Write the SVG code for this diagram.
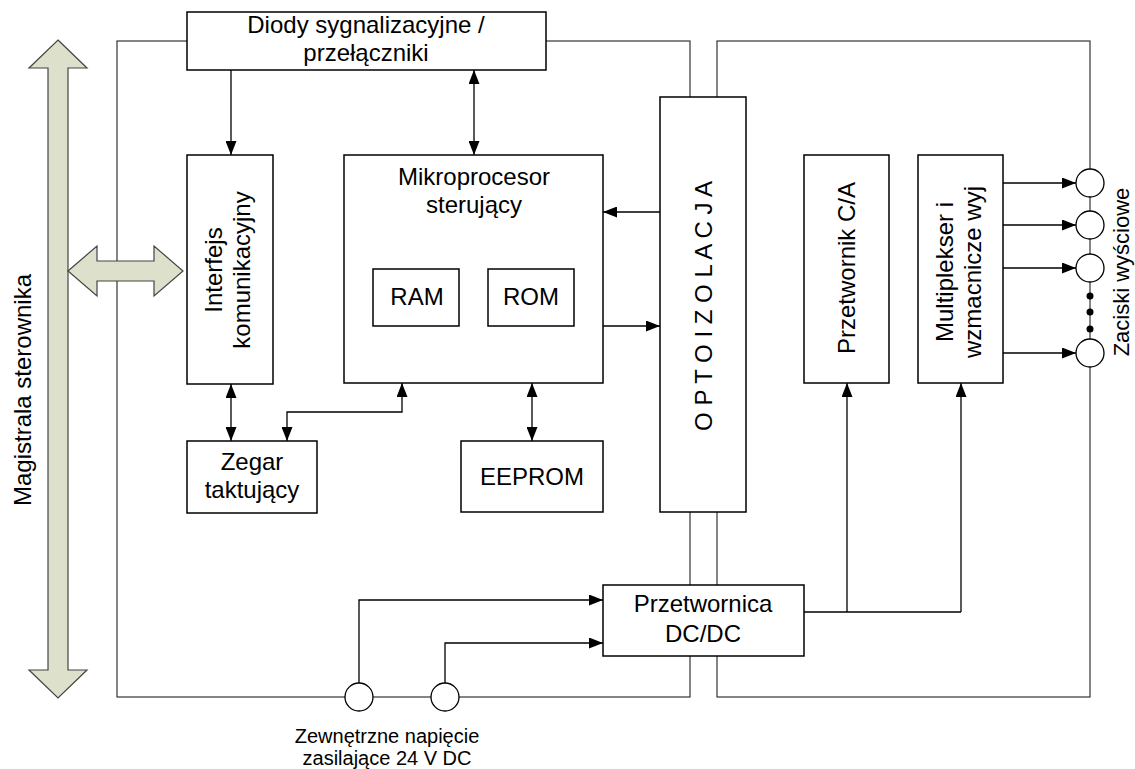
<svg xmlns="http://www.w3.org/2000/svg" width="1135" height="769" viewBox="0 0 1135 769">
  <defs>
    <marker id="arrow" viewBox="0 0 14 11" refX="14" refY="5.5" markerWidth="14" markerHeight="11" markerUnits="userSpaceOnUse" orient="auto-start-reverse">
      <path d="M0,0 L14,5.5 L0,11 z" fill="#000"/>
    </marker>
    <style>
      .box { fill: #fff; stroke: #000; stroke-width: 1.5; }
      .frame { fill: none; stroke: #222; stroke-width: 1.1; }
      .wire { fill: none; stroke: #000; stroke-width: 1.3; }
      .term { fill: #fff; stroke: #000; stroke-width: 1.3; }
      .bus { fill: #dde1cb; stroke: #444; stroke-width: 1.2; }
      .lbl { font-family: "Liberation Sans", Arial, sans-serif; font-size: 24px; fill: #000; text-anchor: middle; }
      .small { font-size: 20px; }
      .mid { font-size: 22px; }
    </style>
  </defs>

  <rect width="1135" height="769" fill="#fff"/>

  <!-- controller housing: CPU side and isolated output side -->
  <g id="housing">
    <rect class="frame" x="117" y="41" width="573" height="656"/>
    <rect class="frame" x="717" y="41" width="373" height="656"/>
  </g>

  <!-- system bus -->
  <g id="bus">
    <path class="bus" d="M58,40 L87,68 L68,68 L68,670 L87,670 L58,698 L29,670 L48,670 L48,68 L29,68 Z"/>
    <path class="bus" d="M68,271 L97,246 L97,261 L154,261 L154,246 L183,271 L154,296 L154,281 L97,281 L97,296 Z"/>
    <text class="lbl" font-size="25" transform="translate(31,390) rotate(-90)">Magistrala sterownika</text>
  </g>

  <!-- connectors -->
  <g id="connectors">
    <line class="wire" x1="231" y1="70" x2="231" y2="155" marker-end="url(#arrow)"/>
    <line class="wire" x1="474" y1="70" x2="474" y2="155" marker-start="url(#arrow)" marker-end="url(#arrow)"/>
    <line class="wire" x1="231" y1="384" x2="231" y2="441" marker-start="url(#arrow)" marker-end="url(#arrow)"/>
    <polyline class="wire" points="402,383 402,412 287,412 287,441" marker-start="url(#arrow)" marker-end="url(#arrow)"/>
    <line class="wire" x1="532" y1="383" x2="532" y2="441" marker-start="url(#arrow)" marker-end="url(#arrow)"/>
    <line class="wire" x1="660" y1="212" x2="603" y2="212" marker-end="url(#arrow)"/>
    <line class="wire" x1="603" y1="326" x2="660" y2="326" marker-end="url(#arrow)"/>
    <polyline class="wire" points="359,683 359,600 603,600" marker-end="url(#arrow)"/>
    <polyline class="wire" points="445,683 445,643 603,643" marker-end="url(#arrow)"/>
    <line class="wire" x1="804" y1="612" x2="961" y2="612"/>
    <line class="wire" x1="847" y1="612" x2="847" y2="383" marker-end="url(#arrow)"/>
    <line class="wire" x1="961" y1="612" x2="961" y2="383" marker-end="url(#arrow)"/>
    <line class="wire" x1="1003" y1="183" x2="1076" y2="183" marker-end="url(#arrow)"/>
    <line class="wire" x1="1003" y1="225" x2="1076" y2="225" marker-end="url(#arrow)"/>
    <line class="wire" x1="1003" y1="268" x2="1076" y2="268" marker-end="url(#arrow)"/>
    <line class="wire" x1="1003" y1="353" x2="1076" y2="353" marker-end="url(#arrow)"/>
  </g>

  <g id="diody">
    <rect class="box" x="187" y="12" width="359" height="58"/>
    <text class="lbl" x="366" y="33">Diody sygnalizacyjne /</text>
    <text class="lbl" x="366" y="61">przełączniki</text>
  </g>

  <g id="interfejs">
    <rect class="box" x="187" y="155" width="86" height="229"/>
    <text class="lbl" transform="translate(222,270) rotate(-90)">Interfejs</text>
    <text class="lbl" transform="translate(250,270) rotate(-90)">komunikacyjny</text>
  </g>

  <g id="mikroprocesor">
    <rect class="box" x="344" y="155" width="259" height="228"/>
    <text class="lbl" x="474" y="185">Mikroprocesor</text>
    <text class="lbl" x="474" y="213">sterujący</text>
  </g>

  <g id="ram">
    <rect class="box" x="373" y="269" width="86" height="57"/>
    <text class="lbl" x="417" y="305">RAM</text>
  </g>

  <g id="rom">
    <rect class="box" x="488" y="269" width="86" height="57"/>
    <text class="lbl" x="531" y="305">ROM</text>
  </g>

  <g id="zegar">
    <rect class="box" x="187" y="441" width="130" height="72"/>
    <text class="lbl" x="252" y="470">Zegar</text>
    <text class="lbl" x="252" y="498">taktujący</text>
  </g>

  <g id="eeprom">
    <rect class="box" x="461" y="441" width="142" height="71"/>
    <text class="lbl" x="532" y="485">EEPROM</text>
  </g>

  <g id="optoizolacja">
    <rect class="box" x="660" y="97" width="86" height="415"/>
    <text class="lbl" transform="translate(712,306) rotate(-90)">O P T O I Z O L A C J A</text>
  </g>

  <g id="przetwornik-ca">
    <rect class="box" x="804" y="155" width="85" height="228"/>
    <text class="lbl" transform="translate(855,268) rotate(-90)">Przetwornik C/A</text>
  </g>

  <g id="multiplekser">
    <rect class="box" x="918" y="155" width="85" height="228"/>
    <text class="lbl" transform="translate(953,272) rotate(-90)">Multiplekser i</text>
    <text class="lbl" transform="translate(981,272) rotate(-90)">wzmacnicze wyj</text>
  </g>

  <g id="przetwornica">
    <rect class="box" x="603" y="585" width="201" height="71"/>
    <text class="lbl" x="703" y="612">Przetwornica</text>
    <text class="lbl" x="703" y="642">DC/DC</text>
  </g>

  <!-- output terminals -->
  <g id="zaciski">
    <circle class="term" cx="1090" cy="183" r="14"/>
    <circle class="term" cx="1090" cy="225" r="14"/>
    <circle class="term" cx="1090" cy="268" r="14"/>
    <circle cx="1090" cy="296" r="3.5"/>
    <circle cx="1090" cy="312" r="3.5"/>
    <circle cx="1090" cy="329" r="3.5"/>
    <circle class="term" cx="1090" cy="353" r="14"/>
    <text class="lbl mid" transform="translate(1129,272) rotate(-90)">Zaciski wyściowe</text>
  </g>

  <!-- 24 V supply terminals -->
  <g id="zasilanie">
    <circle class="term" cx="359" cy="697" r="14"/>
    <circle class="term" cx="445" cy="697" r="14"/>
    <text class="lbl small" x="387" y="743">Zewnętrzne napięcie</text>
    <text class="lbl small" x="387" y="765">zasilające 24 V DC</text>
  </g>
</svg>
